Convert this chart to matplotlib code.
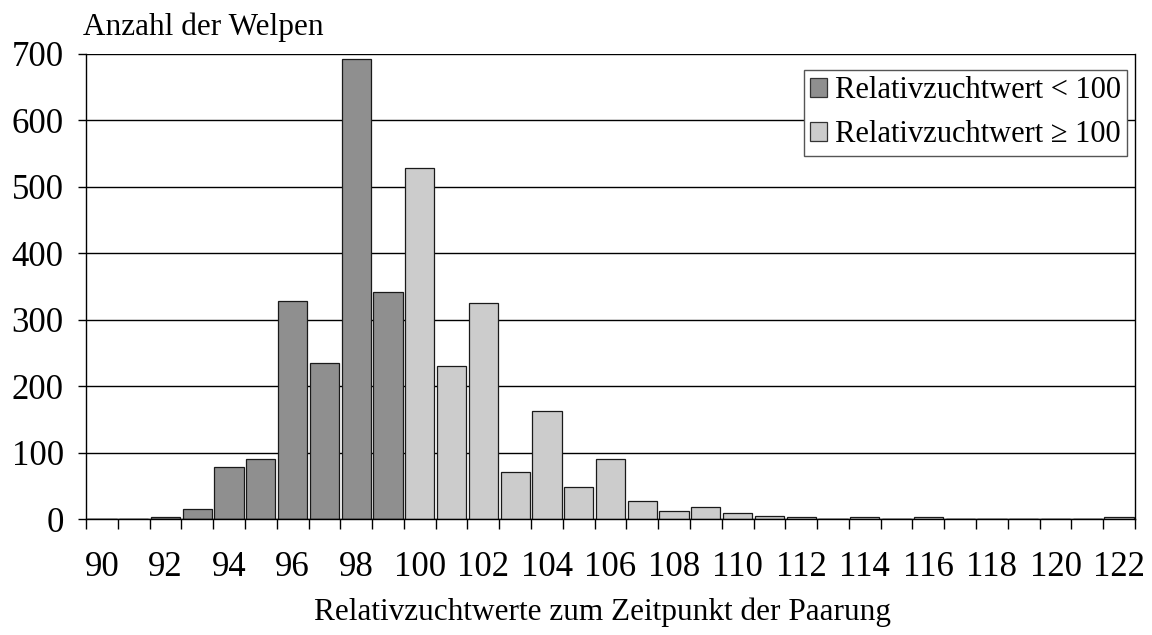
import matplotlib
matplotlib.use("Agg")
import matplotlib.pyplot as plt
import numpy as np
from matplotlib.patches import Patch

plt.rcParams['font.family'] = ['Liberation Serif', 'DejaVu Serif']

# Relativzuchtwert classes 90..122 and number of puppies per class
werte = list(range(90, 123))
welpen = [0, 0, 3, 15, 78, 90, 329, 235, 692, 342,
          529, 231, 326, 71, 163, 48, 91, 28, 12, 19,
          9, 5, 3, 0, 3, 0, 3, 0, 0, 0,
          0, 0, 3]
tick_werte = list(range(90, 123, 2))
y_ticks = [0, 100, 200, 300, 400, 500, 600, 700]

label_unter = "Relativzuchtwert < 100"
label_ueber = "Relativzuchtwert \u2265 100"
farbe_unter = "#8f8f8f"
farbe_ueber = "#cccccc"

fig = plt.figure(figsize=(11.52, 6.35), dpi=100)
ax = fig.add_axes([86 / 1152, 1 - 519.3 / 635, (1135 - 86) / 1152, (519.3 - 53.8) / 635])

idx = np.arange(len(werte))
unter = [v if w < 100 else 0 for w, v in zip(werte, welpen)]
ueber = [v if w >= 100 else 0 for w, v in zip(werte, welpen)]

ax.bar(idx, unter, width=0.92, color=farbe_unter, edgecolor="#1a1a1a", linewidth=0.9, zorder=3)
ax.bar(idx, ueber, width=0.92, color=farbe_ueber, edgecolor="#1a1a1a", linewidth=0.9, zorder=3)

ax.set_xlim(-0.5, len(werte) - 0.5)
ax.set_ylim(0, 700)

# y axis
ax.set_yticks(y_ticks)
ax.set_yticklabels([str(t) for t in y_ticks], fontsize=25)
ax.yaxis.grid(True, color="black", linewidth=1.0, zorder=0)
ax.tick_params(axis="y", direction="out", length=6, width=1, pad=10)

# x axis: labels at even classes, tick marks at class boundaries
ax.set_xticks([werte.index(t) for t in tick_werte])
ax.set_xticklabels([str(t) for t in tick_werte], fontsize=25)
ax.set_xticks(np.arange(-0.5, len(werte)), minor=True)
ax.tick_params(axis="x", which="major", length=0, pad=23)
ax.tick_params(axis="x", which="minor", direction="out", length=7, width=1)

ax.spines["top"].set_visible(False)
for side in ["left", "right", "bottom"]:
    ax.spines[side].set_linewidth(1.0)
    ax.spines[side].set_color("black")
ax.spines["bottom"].set_zorder(4)

fig.text(83 / 1152, 1 - 27 / 635, "Anzahl der Welpen", fontsize=22.5, ha="left", va="center")
fig.text(602 / 1152, 1 - 612 / 635, "Relativzuchtwerte zum Zeitpunkt der Paarung",
         fontsize=22.5, ha="center", va="center")

handles = [Patch(facecolor=farbe_unter, edgecolor="#333333", linewidth=0.9),
           Patch(facecolor=farbe_ueber, edgecolor="#333333", linewidth=0.9)]
leg = fig.legend(handles, [label_unter, label_ueber], loc="upper right",
                 bbox_to_anchor=(1127 / 1152, 1 - 70 / 635), borderaxespad=0,
                 prop={"size": 22}, frameon=True, fancybox=False, shadow=False,
                 handlelength=0.55, handleheight=0.55, handletextpad=0.25,
                 labelspacing=0.5, borderpad=0.2)
leg.get_frame().set_edgecolor("#555555")
leg.get_frame().set_linewidth(1.0)
leg.get_frame().set_alpha(1.0)

fig.savefig("out.png", dpi=100)
